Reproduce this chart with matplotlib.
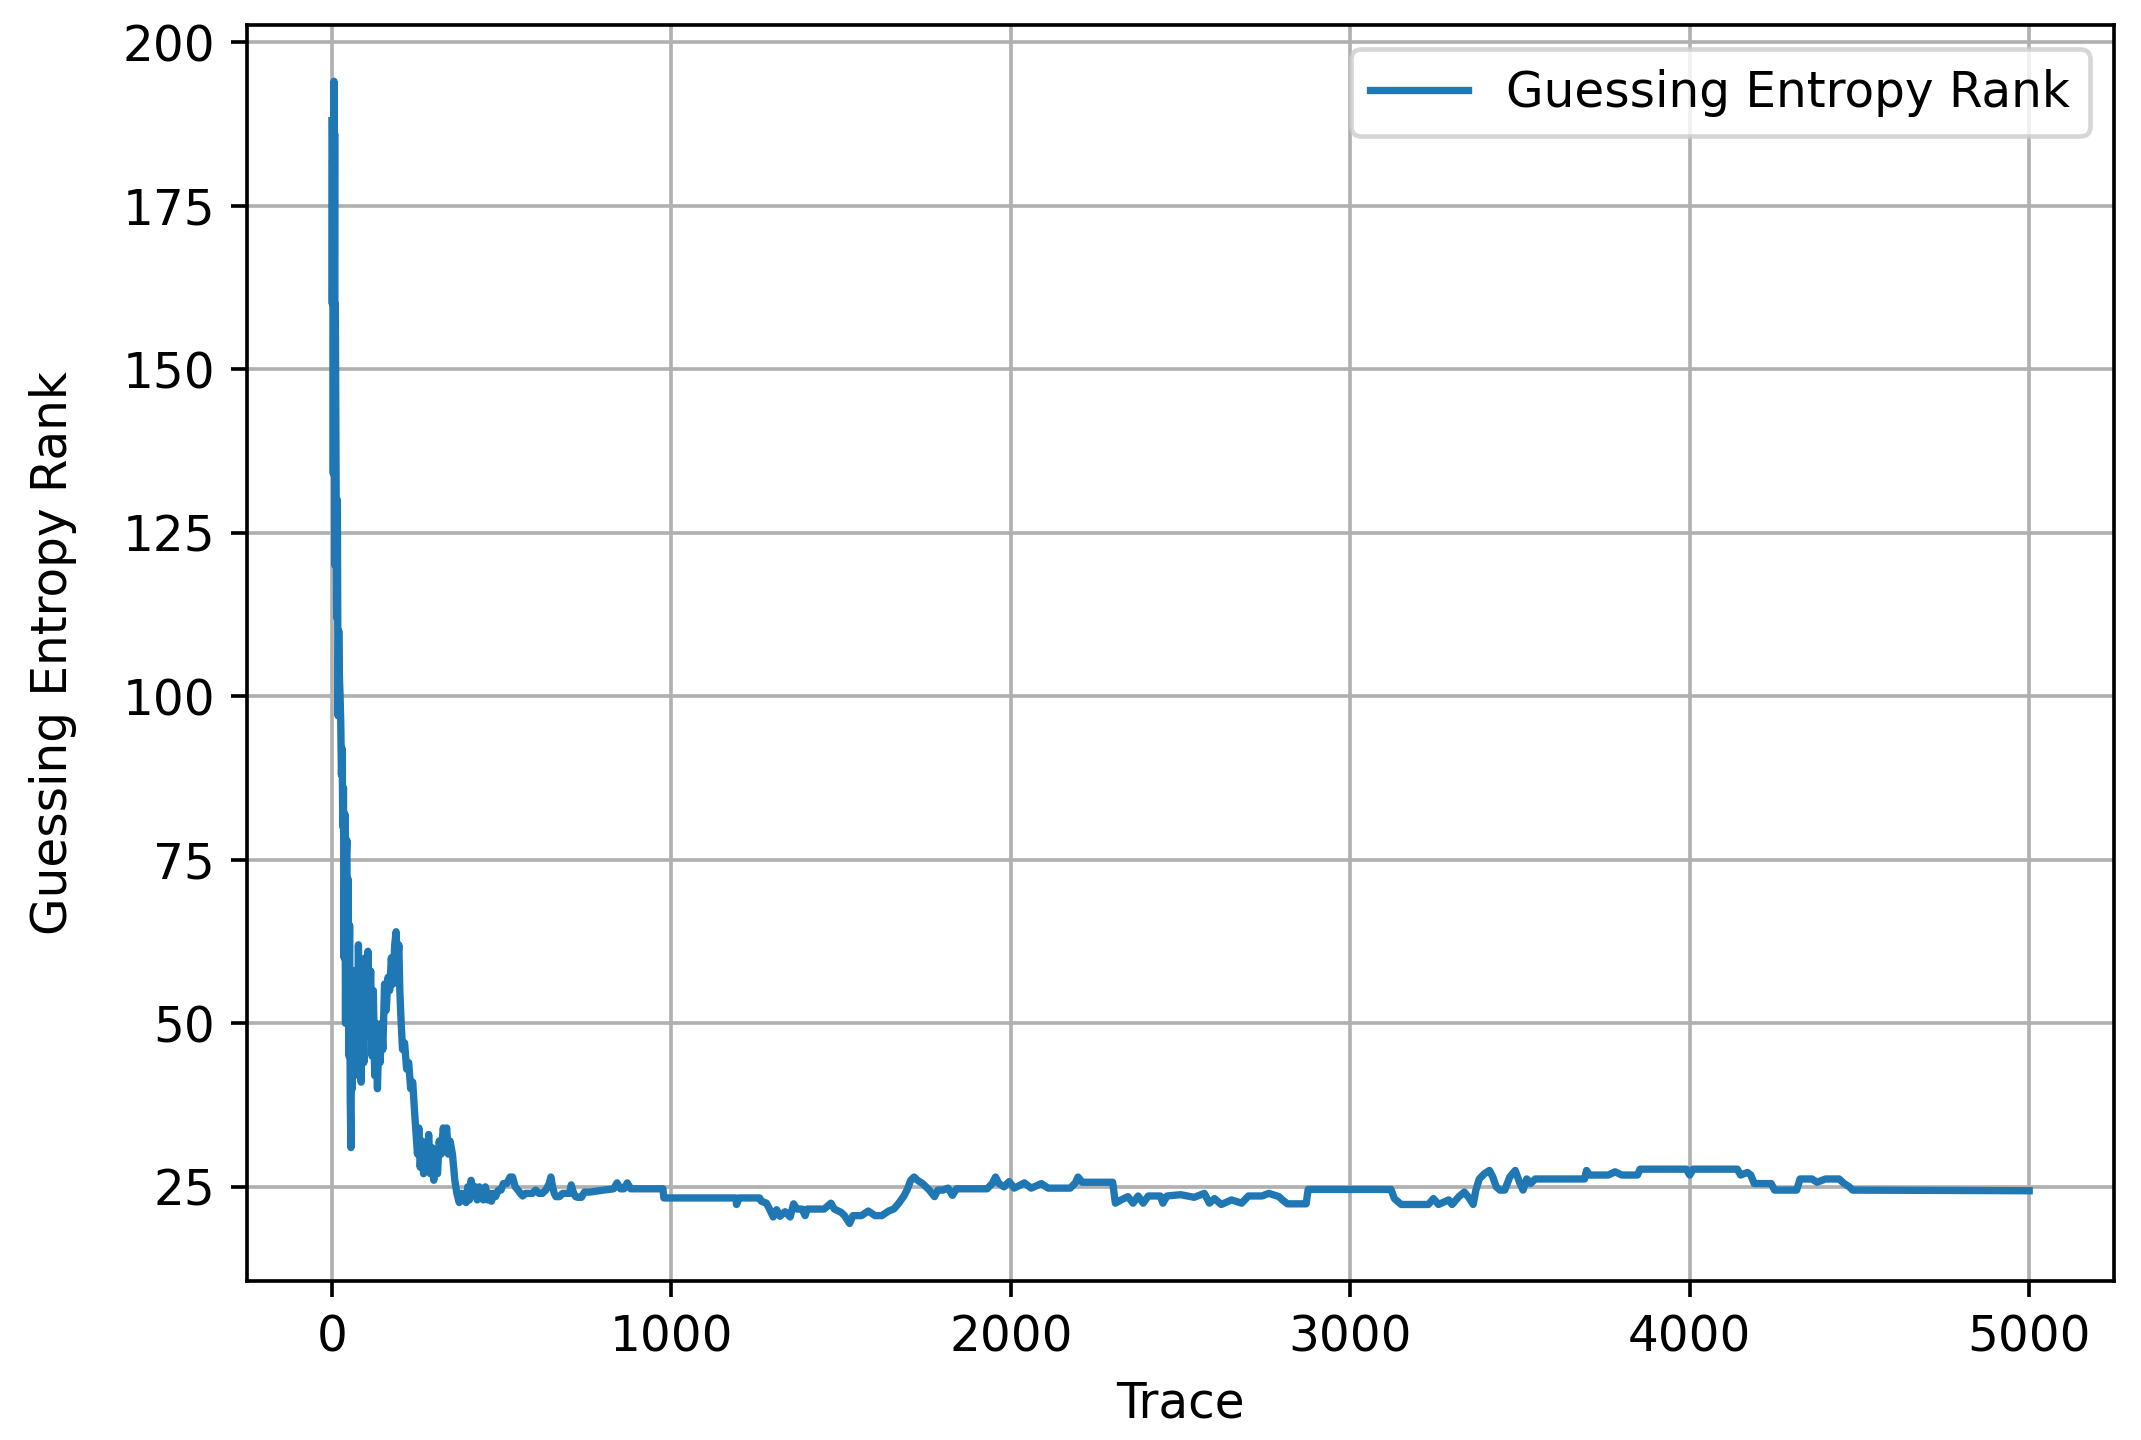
import matplotlib
matplotlib.use("Agg")
import matplotlib.pyplot as plt

# Guessing entropy rank (trace number, rank)
trace_early = [0, 1, 2, 3, 4, 5, 6, 7, 8, 9, 10, 12, 14, 16, 18, 20, 22, 24,
               26, 28, 30, 32, 34, 36, 38, 40, 42, 44, 46, 48, 50, 52, 54, 56,
               58, 60, 62, 66, 70, 74, 78, 82, 86, 90, 94, 98, 102, 106, 110,
               114, 118, 122, 126, 130, 134, 138, 142, 146, 150, 155, 160, 165,
               170, 175, 180, 185, 189, 193, 197, 200, 204, 208, 214, 220, 226,
               232, 238, 244, 248, 252, 256, 260, 265, 270, 275, 280, 285, 290,
               295, 300, 305, 311, 316, 322, 328, 333, 338, 343, 348, 355, 362,
               368, 375, 382, 388, 395, 400, 405, 410, 416, 422, 428, 434, 440,
               446, 452, 458, 464, 470, 476, 482, 490]
rank_early = [188, 160, 182, 175, 134, 170, 194, 150, 186, 120, 160, 135, 112,
              130, 97, 110, 103, 100, 96, 88, 92, 80, 86, 60, 82, 50, 75, 78,
              55, 72, 45, 65, 38, 31, 50, 40, 58, 42, 58, 45, 62, 50, 41, 55,
              44, 60, 48, 61, 50, 58, 45, 55, 42, 50, 40, 48, 44, 50, 46, 56,
              52, 57, 55, 60, 56, 62, 64, 58, 62, 55, 50, 46, 47, 43, 44, 40,
              41, 36, 33, 30, 34, 28, 32, 27, 31, 29, 33, 27, 31, 26, 30, 27,
              32, 30, 34, 32, 34, 30, 32, 30, 26, 24, 22.6, 24, 23, 22.6, 25,
              23, 26, 24, 25, 23, 25, 24.5, 23, 25, 23, 24, 22.8, 24, 23.5,
              24.5]

trace_late = [498, 505, 515, 525, 532, 540, 548, 555, 562, 570, 580, 590, 600,
              610, 620, 630, 640, 645, 650, 655, 660, 670, 680, 690, 700, 705,
              712, 718, 724, 735, 744, 760, 800, 830, 840, 850, 860, 870, 880,
              960, 975, 978, 1190, 1192, 1200, 1260, 1265, 1280, 1290, 1300,
              1310, 1320, 1335, 1350, 1360, 1370, 1385, 1394, 1400, 1450, 1470,
              1480, 1500, 1510, 1525, 1535, 1560, 1580, 1600, 1620, 1640, 1655,
              1670, 1685, 1695, 1705, 1715, 1725, 1740, 1760, 1775, 1785, 1800,
              1815, 1828, 1840, 1930, 1945, 1955, 1965, 1980, 1995, 2010, 2040,
              2060, 2090, 2110, 2175, 2190, 2198, 2210, 2300, 2308, 2325, 2345,
              2360, 2375, 2390, 2405, 2440, 2448, 2460, 2500, 2540, 2570, 2585,
              2600, 2620, 2650, 2680, 2700, 2740, 2760, 2790, 2800, 2815, 2870,
              2876, 3120, 3130, 3150, 3230, 3245, 3260, 3290, 3300, 3320, 3336,
              3350, 3362, 3370, 3380, 3395, 3410, 3420, 3430, 3441, 3455, 3470,
              3486, 3500, 3509, 3520, 3531, 3545, 3690, 3696, 3705, 3760, 3780,
              3800, 3846, 3854, 3990, 4000, 4010, 4140, 4150, 4170, 4180, 4190,
              4240, 4250, 4315, 4325, 4360, 4375, 4400, 4440, 4455, 4470, 4480,
              5000]
rank_late = [24.5, 25.5, 25.5, 26.5, 26.5, 25, 24.5, 24, 23.6, 24, 24, 24,
             24.5, 24, 24, 24.5, 25.5, 26.5, 25, 24, 23.5, 23.5, 24, 24, 24,
             25.3, 24, 23.5, 23.4, 23.4, 24.2, 24.2, 24.5, 24.7, 25.6, 24.7,
             24.7, 25.6, 24.7, 24.7, 24.7, 23.3, 23.3, 22.3, 23.3, 23.3, 22.8,
             22.5, 21.5, 20.4, 21.5, 20.5, 21.2, 20.4, 22.4, 21.6, 21.6, 20.6,
             21.6, 21.6, 22.5, 21.6, 21.1, 20.6, 19.4, 20.6, 20.6, 21.3, 20.6,
             20.6, 21.3, 21.6, 22.5, 23.6, 24.6, 26, 26.5, 26, 25.5, 24.5,
             23.5, 24.5, 24.5, 24.8, 23.7, 24.7, 24.7, 25.5, 26.5, 25.5, 25,
             25.8, 24.8, 25.6, 24.8, 25.5, 24.8, 24.8, 25.6, 26.5, 25.7, 25.7,
             22.5, 23, 23.5, 22.5, 23.6, 22.5, 23.6, 23.6, 22.5, 23.6, 23.8,
             23.4, 24, 22.5, 23.2, 22.3, 23, 22.5, 23.6, 23.6, 24, 23.5, 23,
             22.4, 22.4, 24.6, 24.6, 23.2, 22.3, 22.3, 23.2, 22.3, 23, 22.3,
             23.5, 24.2, 23.3, 22.3, 24.5, 26.2, 27, 27.5, 26.5, 25, 24.5,
             24.5, 26.5, 27.5, 25.5, 24.5, 26.2, 25.5, 26.2, 26.2, 27.5, 26.8,
             26.8, 27.3, 26.8, 26.8, 27.7, 27.7, 26.8, 27.7, 27.7, 26.8, 27.2,
             26.8, 25.5, 25.5, 24.5, 24.5, 26.2, 26.2, 25.7, 26.2, 26.2, 25.5,
             25, 24.5, 24.4]

series_label = "Guessing Entropy Rank"
x_label = "Trace"
y_label = "Guessing Entropy Rank"

trace = trace_early + trace_late
rank = rank_early + rank_late

plt.rcParams["font.size"] = 10.6

DPI = 330
fig = plt.figure(figsize=(2141 / DPI, 1440 / DPI), dpi=DPI)
ax = fig.add_axes([0.1154, 0.1104, 0.8720, 0.8722])
ax.plot(trace, rank, color="#1f77b4", linewidth=1.6, label=series_label)
ax.set_xlim(-250, 5250)
ax.set_ylim(10.6, 202.6)
ax.set_xticks([0, 1000, 2000, 3000, 4000, 5000])
ax.set_yticks([25, 50, 75, 100, 125, 150, 175, 200])
ax.grid(True)
ax.set_xlabel(x_label)
ax.set_ylabel(y_label)
ax.yaxis.set_label_coords(-0.091, 0.5)
ax.legend(loc="upper right")
fig.savefig("out.png", dpi=DPI)
